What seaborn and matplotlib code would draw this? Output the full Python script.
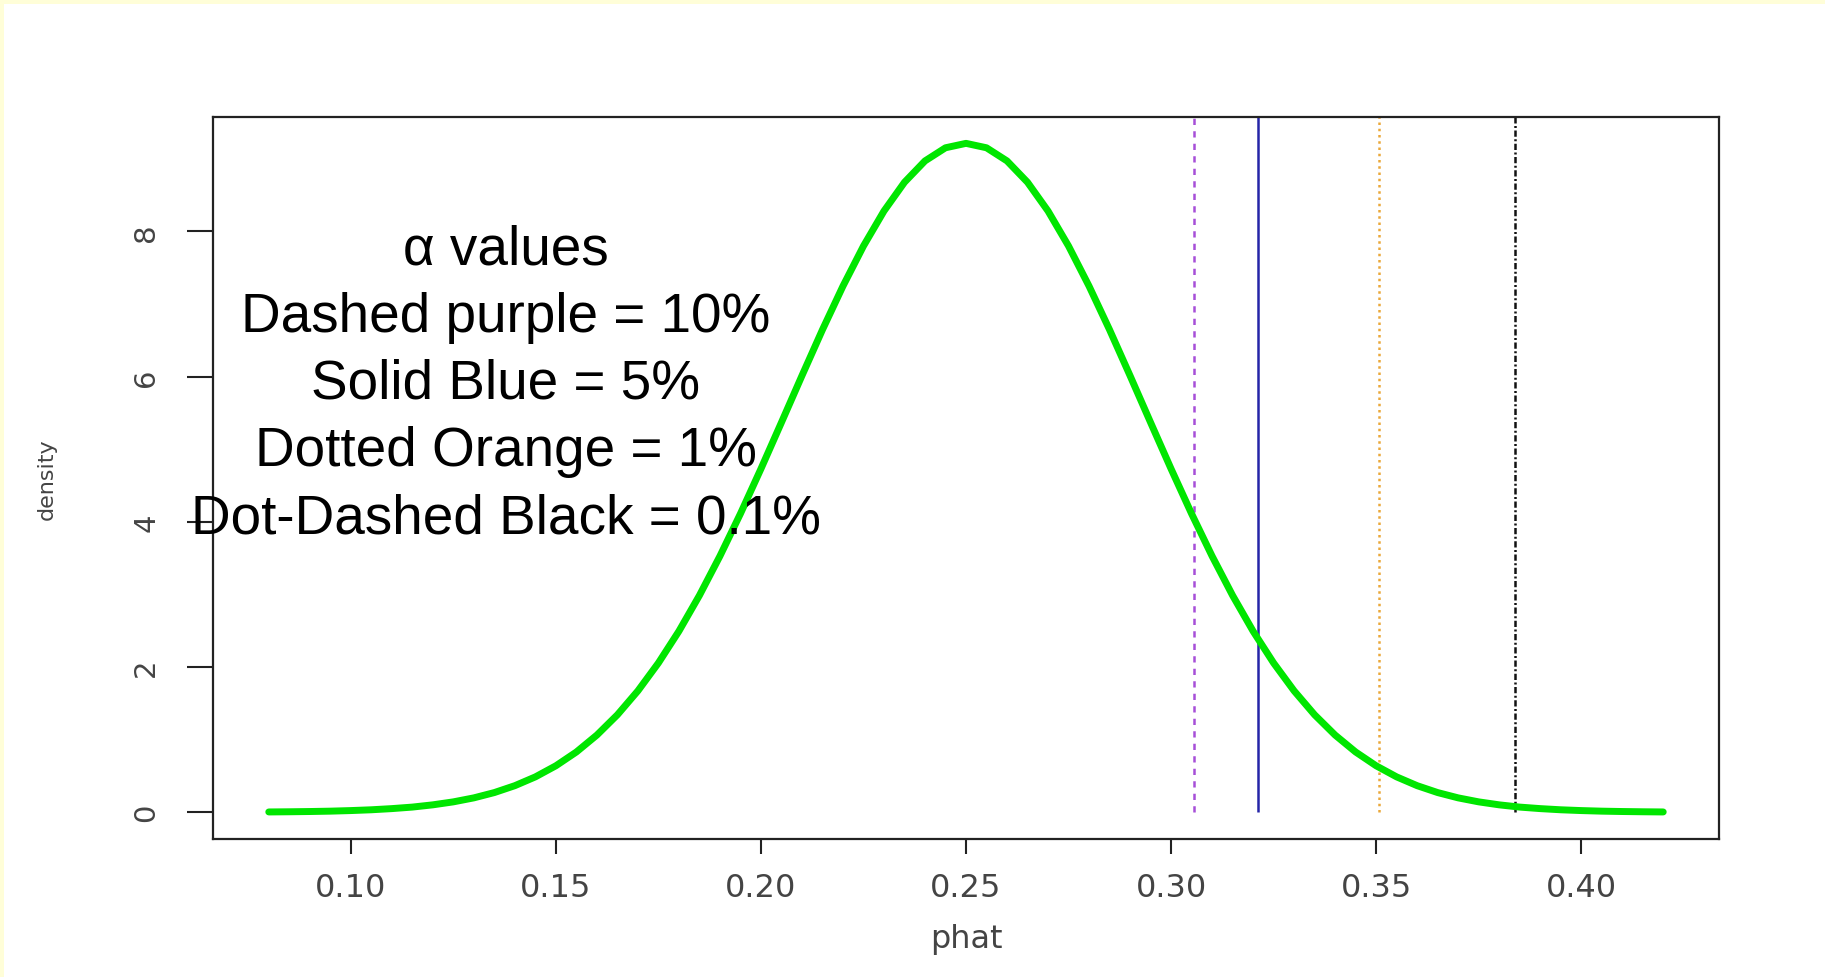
import numpy as np
import pandas as pd
import seaborn as sns
import matplotlib.pyplot as plt
from matplotlib.patches import Rectangle

# sampling distribution of phat
phat = [0.080, 0.085, 0.090, 0.095, 0.100, 0.105, 0.110, 0.115, 0.120, 0.125,
        0.130, 0.135, 0.140, 0.145, 0.150, 0.155, 0.160, 0.165, 0.170, 0.175,
        0.180, 0.185, 0.190, 0.195, 0.200, 0.205, 0.210, 0.215, 0.220, 0.225,
        0.230, 0.235, 0.240, 0.245, 0.250, 0.255, 0.260, 0.265, 0.270, 0.275,
        0.280, 0.285, 0.290, 0.295, 0.300, 0.305, 0.310, 0.315, 0.320, 0.325,
        0.330, 0.335, 0.340, 0.345, 0.350, 0.355, 0.360, 0.365, 0.370, 0.375,
        0.380, 0.385, 0.390, 0.395, 0.400, 0.405, 0.410, 0.415, 0.420]
density = [0.004, 0.0065, 0.010, 0.015, 0.023, 0.034, 0.050, 0.071, 0.102, 0.143,
           0.198, 0.271, 0.366, 0.487, 0.640, 0.830, 1.063, 1.342, 1.672, 2.056,
           2.494, 2.986, 3.528, 4.112, 4.730, 5.369, 6.013, 6.646, 7.247, 7.799,
           8.281, 8.677, 8.971, 9.152, 9.213, 9.152, 8.971, 8.677, 8.281, 7.799,
           7.247, 6.646, 6.013, 5.369, 4.730, 4.112, 3.528, 2.986, 2.494, 2.056,
           1.672, 1.342, 1.063, 0.830, 0.640, 0.487, 0.366, 0.271, 0.198, 0.143,
           0.102, 0.071, 0.050, 0.034, 0.023, 0.015, 0.010, 0.0065, 0.004]

# critical values for alpha = 10%, 5%, 1%, 0.1%
crit_vals = [0.3055, 0.3212, 0.3507, 0.3838]
crit_colors = ['#a64fd8', '#2525a8', '#eaa83a', '#111111']
crit_dashes = [(2.5, 2.5), None, (1, 1.5), (2.5, 1, 0.8, 1)]

xticks = [0.10, 0.15, 0.20, 0.25, 0.30, 0.35, 0.40]
xtick_labels = ['0.10', '0.15', '0.20', '0.25', '0.30', '0.35', '0.40']
yticks = [0, 2, 4, 6, 8]
ytick_labels = ['0', '2', '4', '6', '8']

legend_text = ("\u03b1 values\nDashed purple = 10%\nSolid Blue = 5%\n"
               "Dotted Orange = 1%\nDot-Dashed Black = 0.1%")

df = pd.DataFrame({'phat': phat, 'density': density})

sns.set_style('white')
plt.rcParams['font.family'] = ['DejaVu Sans']

fig = plt.figure(figsize=(18.25, 9.78), dpi=100)
fig.patch.set_facecolor('white')
# thin yellow slide border on top and left
fig.patches.append(Rectangle((0, 1 - 5 / 978), 1, 5 / 978, transform=fig.transFigure,
                             facecolor='#fffed8', edgecolor='none'))
fig.patches.append(Rectangle((0, 0), 4 / 1825, 1, transform=fig.transFigure,
                             facecolor='#fffed8', edgecolor='none'))
ax = fig.add_axes([213 / 1825, 1 - 840 / 978, (1719 - 213) / 1825, (840 - 117.6) / 978])
ax.set_facecolor('white')

sns.lineplot(data=df, x='phat', y='density', color='#00e600', linewidth=5,
             ax=ax, zorder=3)

for xv, col, dash in zip(crit_vals, crit_colors, crit_dashes):
    ln = ax.vlines(xv, 0, 12, color=col, linewidth=1.8, zorder=2)
    if dash is not None:
        ln.set_linestyle((0, dash))

# R style 4% padding around the data
xr = max(phat) - min(phat)
yr = max(density) - 0
ax.set_xlim(min(phat) - 0.04 * xr, max(phat) + 0.04 * xr)
ax.set_ylim(0 - 0.04 * yr, max(density) + 0.04 * yr)

ax.set_xticks(xticks)
ax.set_xticklabels(xtick_labels)
ax.set_yticks(yticks)
ax.set_yticklabels(ytick_labels, rotation=90, va='center')
ax.tick_params(axis='x', length=11, width=1.5, color='#222222', pad=13,
               labelsize=23, labelcolor='#444444', direction='out', bottom=True)
ax.tick_params(axis='y', length=19, width=1.5, color='#222222', pad=19,
               labelsize=21, labelcolor='#444444', direction='out', left=True)
for sp in ax.spines.values():
    sp.set_visible(True)
    sp.set_color('#222222')
    sp.set_linewidth(1.6)

ax.set_xlabel('phat', fontsize=23, color='#444444')
ax.set_ylabel('density', fontsize=16, color='#444444')
ax.xaxis.label.set_va('center')
ax.yaxis.label.set_va('center')
ax.xaxis.set_label_coords(0.5, (840 - 940) / (840 - 117.6))
ax.yaxis.set_label_coords((47 - 213) / (1719 - 213), 0.5)

ax.text(0.1378, 5.9, legend_text, ha='center', va='center', fontsize=39.5,
        family=['Liberation Sans', 'DejaVu Sans'], color='black',
        linespacing=1.38, zorder=4)

fig.savefig('out.png', dpi=100)
